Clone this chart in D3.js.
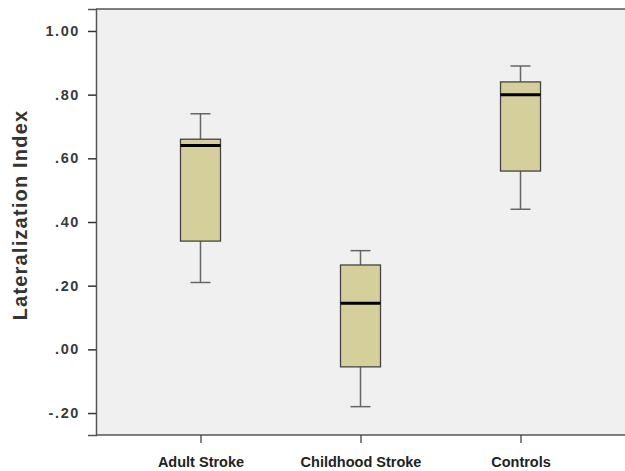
<!DOCTYPE html>
<html>
<head>
<meta charset="utf-8">
<script src="https://cdn.jsdelivr.net/npm/d3@7"></script>
<style>
  body { margin: 0; background: #fff; }
  svg { display: block; font-family: "Liberation Sans", Arial, sans-serif; }
</style>
</head>
<body>
<div id="chart"></div>
<script>
// 数据
const groups = ['Adult Stroke', 'Childhood Stroke', 'Controls'];
const whiskerLow = [0.21, -0.18, 0.44];
const q1 = [0.34, -0.055, 0.56];
const median = [0.64, 0.145, 0.80];
const q3 = [0.66, 0.265, 0.84];
const whiskerHigh = [0.74, 0.31, 0.89];
const yTicks = [-0.2, 0, 0.2, 0.4, 0.6, 0.8, 1.0];

const width = 625, height = 471;
const margin = { top: 9, right: 0, bottom: 36, left: 96 };

const svg = d3.select('#chart').append('svg').attr('width', width).attr('height', height);

const x = d3.scalePoint().domain(groups).range([margin.left, width - margin.right]).padding(0.653);
const y = d3.scaleLinear().domain([-0.269, 1.069]).range([height - margin.bottom, margin.top]);

// 背景
svg.append('rect')
  .attr('x', margin.left).attr('y', margin.top)
  .attr('width', width - margin.left - margin.right)
  .attr('height', height - margin.top - margin.bottom)
  .attr('fill', '#f0f0f0');

// 边框线
svg.append('line').attr('x1', margin.left).attr('x2', width).attr('y1', margin.top).attr('y2', margin.top)
  .attr('stroke', '#555').attr('stroke-width', 1.5);
svg.append('line').attr('x1', margin.left).attr('x2', width).attr('y1', height - margin.bottom).attr('y2', height - margin.bottom)
  .attr('stroke', '#555').attr('stroke-width', 1.5);

// y轴
const yAxis = d3.axisLeft(y).tickValues(yTicks).tickSize(8).tickPadding(8)
  .tickFormat(d => {
    const s = d3.format('.2f')(d);
    return s.replace('−', '-').replace(/^(-?)0\./, '$1.');
  });
const gy = svg.append('g').attr('transform', `translate(${margin.left},0)`).call(yAxis);
gy.select('.domain').attr('stroke', '#555').attr('stroke-width', 1.5);
gy.selectAll('.tick line').attr('stroke', '#333').attr('stroke-width', 1.5);
gy.selectAll('.tick text').attr('font-size', 14.5).attr('font-weight', 'bold').attr('fill', '#3a3a3a')
  .attr('letter-spacing', 1.6)
  .attr('font-family', '"Liberation Sans", Arial, sans-serif');

// x轴
const xAxis = d3.axisBottom(x).tickSize(8).tickPadding(14);
const gx = svg.append('g').attr('transform', `translate(0,${height - margin.bottom})`).call(xAxis);
gx.select('.domain').remove();
gx.selectAll('.tick line').attr('stroke', '#333').attr('stroke-width', 1.2);
gx.selectAll('.tick text').attr('font-size', 14.5).attr('font-weight', 'bold').attr('fill', '#222')
  .attr('font-family', '"Liberation Sans", Arial, sans-serif');

// y轴标题
svg.append('text')
  .text('Lateralization Index')
  .attr('transform', `translate(27,215) rotate(-90)`)
  .attr('text-anchor', 'middle')
  .attr('letter-spacing', 1.2)
  .attr('font-size', 20).attr('font-weight', 'bold').attr('fill', '#333');

// 箱线图
const boxW = 40, capW = 20;
const data = groups.map((g, i) => ({ g, lo: whiskerLow[i], q1: q1[i], med: median[i], q3: q3[i], hi: whiskerHigh[i] }));
const bg = svg.selectAll('.box').data(data).enter().append('g').attr('class', 'box');

bg.append('line')
  .attr('x1', d => x(d.g)).attr('x2', d => x(d.g))
  .attr('y1', d => y(d.hi)).attr('y2', d => y(d.q3))
  .attr('stroke', '#666').attr('stroke-width', 1.5);
bg.append('line')
  .attr('x1', d => x(d.g)).attr('x2', d => x(d.g))
  .attr('y1', d => y(d.q1)).attr('y2', d => y(d.lo))
  .attr('stroke', '#666').attr('stroke-width', 1.5);
bg.append('line')
  .attr('x1', d => x(d.g) - capW / 2).attr('x2', d => x(d.g) + capW / 2)
  .attr('y1', d => y(d.hi)).attr('y2', d => y(d.hi))
  .attr('stroke', '#666').attr('stroke-width', 1.5);
bg.append('line')
  .attr('x1', d => x(d.g) - capW / 2).attr('x2', d => x(d.g) + capW / 2)
  .attr('y1', d => y(d.lo)).attr('y2', d => y(d.lo))
  .attr('stroke', '#666').attr('stroke-width', 1.5);
bg.append('rect')
  .attr('x', d => x(d.g) - boxW / 2).attr('width', boxW)
  .attr('y', d => y(d.q3)).attr('height', d => y(d.q1) - y(d.q3))
  .attr('fill', '#d4cf9b').attr('stroke', '#444').attr('stroke-width', 1.3);
bg.append('line')
  .attr('x1', d => x(d.g) - boxW / 2).attr('x2', d => x(d.g) + boxW / 2)
  .attr('y1', d => y(d.med)).attr('y2', d => y(d.med))
  .attr('stroke', '#000').attr('stroke-width', 3);
</script>
</body>
</html>
